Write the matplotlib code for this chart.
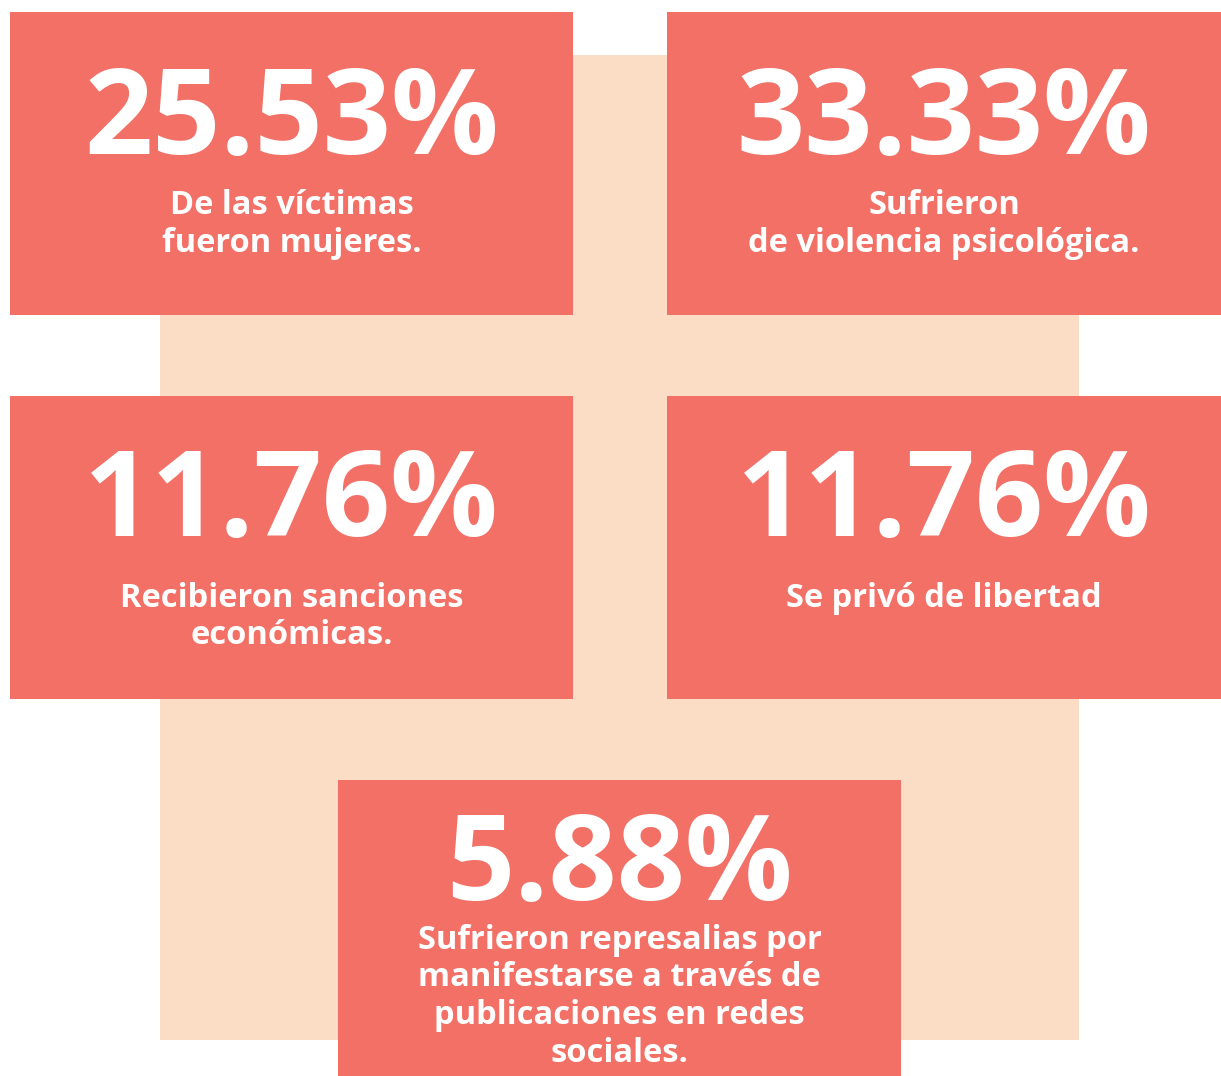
import matplotlib.pyplot as plt
from matplotlib.patches import Rectangle

# datos
valores = ['25.53%', '33.33%', '11.76%', '11.76%', '5.88%']
textos = [
    'De las víctimas\nfueron mujeres.',
    'Sufrieron\nde violencia psicológica.',
    'Recibieron sanciones\neconómicas.',
    'Se privó de libertad',
    'Sufrieron represalias por\nmanifestarse a través de\npublicaciones en redes\nsociales.',
]

coral = '#F27066'
durazno = '#FBDCC5'

# cajas: x0, y0, x1, y1 (pixeles, eje y hacia abajo)
cajas = [
    (10, 12, 573, 315),
    (667, 12, 1221, 315),
    (10, 396, 573, 699),
    (667, 396, 1221, 699),
    (338, 780, 901, 1076),
]
# linea base del numero y de la primera linea de texto
base_num = [154, 154, 536, 536, 900]
base_txt = [214, 214, 607, 607, 949]
interlinea = 37.5

W, H = 1221, 1076
fig = plt.figure(figsize=(W / 100, H / 100), dpi=100)
ax = fig.add_axes([0, 0, 1, 1])
ax.set_xlim(0, W)
ax.set_ylim(H, 0)
ax.axis('off')

# fondo durazno
ax.add_patch(Rectangle((160, 55), 1079 - 160, 1040 - 55, color=durazno, lw=0))

fuente = 'Open Sans'
for (x0, y0, x1, y1), val, txt, bn, bt in zip(cajas, valores, textos, base_num, base_txt):
    ax.add_patch(Rectangle((x0, y0), x1 - x0, y1 - y0, color=coral, lw=0))
    cx = (x0 + x1) / 2
    ax.text(cx, bn, val, ha='center', va='baseline', color='white',
            fontsize=86, fontweight='bold', family=fuente)
    for i, l in enumerate(txt.split('\n')):
        ax.text(cx, bt + i * interlinea, l, ha='center', va='baseline', color='white',
                fontsize=23.5, fontweight='bold', family=fuente)

plt.savefig('out.png', dpi=100)
